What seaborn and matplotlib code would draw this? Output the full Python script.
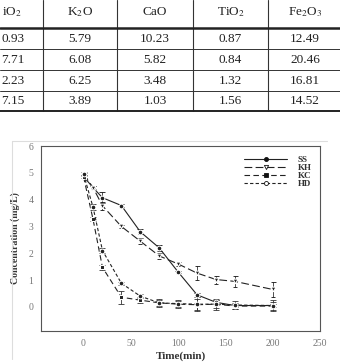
import numpy as np
import pandas as pd
import matplotlib
matplotlib.use("Agg")
import matplotlib.pyplot as plt
import seaborn as sns
from matplotlib.lines import Line2D

# table (cropped piece at the top of the picture)
tbl_header = ["iO$_2$", "K$_2$O", "CaO", "TiO$_2$", "Fe$_2$O$_3$"]
tbl_rows = [
    ["0.93", "5.79", "10.23", "0.87", "12.49"],
    ["7.71", "6.08", "5.82", "0.84", "20.46"],
    ["2.23", "6.25", "3.48", "1.32", "16.81"],
    ["7.15", "3.89", "1.03", "1.56", "14.52"],
]

# chart data
time_min = [0, 10, 20, 40, 60, 80, 100, 120, 140, 160, 200]
series_names = ["SS", "KH", "KC", "HD"]
ss = [4.86, 4.45, 4.07, 3.78, 2.80, 2.20, 1.30, 0.45, 0.17, 0.05, 0.05]
kh = [4.95, 4.45, 3.77, 3.00, 2.45, 1.90, 1.60, 1.26, 1.02, 0.95, 0.65]
kc = [4.85, 3.27, 1.47, 0.36, 0.25, 0.15, 0.10, 0.08, 0.10, 0.03, 0.03]
hd = [4.95, 3.72, 2.10, 0.88, 0.40, 0.15, 0.12, 0.10, 0.10, 0.07, 0.05]
ss_err = [0.05, 0.05, 0.20, 0.05, 0.10, 0.10, 0.05, 0.08, 0.10, 0.05, 0.05]
kh_err = [0.05, 0.05, 0.15, 0.05, 0.12, 0.12, 0.08, 0.25, 0.15, 0.22, 0.27]
kc_err = [0.05, 0.08, 0.08, 0.25, 0.10, 0.12, 0.12, 0.20, 0.15, 0.10, 0.15]
hd_err = [0.08, 0.10, 0.10, 0.05, 0.08, 0.15, 0.15, 0.25, 0.20, 0.15, 0.20]

values = {"SS": ss, "KH": kh, "KC": kc, "HD": hd}
errors = {"SS": ss_err, "KH": kh_err, "KC": kc_err, "HD": hd_err}

df = pd.concat([pd.DataFrame({"time": time_min, "conc": values[s], "err": errors[s], "series": s})
                for s in series_names], ignore_index=True)

sns.set_style("white")
plt.rcParams['font.family'] = ['Liberation Serif', 'DejaVu Serif']
plt.rcParams['mathtext.fontset'] = 'stix'

fig = plt.figure(figsize=(3.4, 3.62), dpi=100)
W, H = 340, 362

def fx(px):
    return px / W

def fy(py):
    return 1 - py / H

# ---- table ----
col_lines = [43, 117, 193, 268]
col_centers = [5, 80, 155, 230.5, 305]
row_lines = [49, 70, 91]
for x in col_lines:
    fig.add_artist(Line2D([fx(x), fx(x)], [fy(0), fy(111)], color="#333333", lw=0.8))
fig.add_artist(Line2D([0, 1], [fy(27.5), fy(27.5)], color="#222222", lw=1.8))
for y in row_lines:
    fig.add_artist(Line2D([0, 1], [fy(y), fy(y)], color="#333333", lw=0.7))
fig.add_artist(Line2D([0, 1], [fy(110.5), fy(110.5)], color="#222222", lw=1.4))
for j, h in enumerate(tbl_header):
    if j == 0:
        fig.text(fx(1.5), fy(12), h, ha="left", va="center", fontsize=9.5, color="#222222")
    else:
        fig.text(fx(col_centers[j]), fy(12), h, ha="center", va="center", fontsize=9.5, color="#222222")
row_centers = [39, 60, 80.5, 101]
for i, row in enumerate(tbl_rows):
    for j, v in enumerate(row):
        if j == 0:
            fig.text(fx(1.5), fy(row_centers[i]), v, ha="left", va="center", fontsize=9.5, color="#222222")
        else:
            fig.text(fx(col_centers[j]), fy(row_centers[i]), v, ha="center", va="center", fontsize=9.5, color="#222222")

# light frame around the chart image
fig.add_artist(Line2D([fx(12), fx(327)], [fy(141), fy(141)], color="#dddddd", lw=0.8))
fig.add_artist(Line2D([fx(12), fx(12)], [fy(141), fy(359)], color="#dddddd", lw=0.8))

# ---- chart ----
ax = fig.add_axes([fx(41), fy(331), fx(320) - fx(41), fy(146) - fy(331)])
markers = {"SS": "o", "KH": "v", "KC": "s", "HD": "o"}
dashes = {"SS": "", "KH": (7, 3), "KC": (5, 3), "HD": (3, 2)}
facecols = {"SS": "#111111", "KH": "white", "KC": "#111111", "HD": "white"}
msizes = {"SS": 3.6, "KH": 3.8, "KC": 3.2, "HD": 3.6}

for s in series_names:
    sub = df[df["series"] == s]
    ax.errorbar(sub["time"], sub["conc"], yerr=sub["err"], fmt="none", ecolor="#333333",
                elinewidth=0.6, capsize=2.4, capthick=0.6, zorder=2)

sns.lineplot(data=df, x="time", y="conc", style="series", style_order=series_names,
             markers=markers, dashes=dashes, color="#222222", linewidth=0.8,
             markersize=3.4, ax=ax, legend=False, zorder=3)

for line, s in zip(ax.get_lines(), series_names):
    line.set_markerfacecolor(facecols[s])
    line.set_markeredgecolor("#111111")
    line.set_markeredgewidth(0.6)
    line.set_markersize(msizes[s])

handles = []
for s in series_names:
    ls = "-" if s == "SS" else (0, dashes[s])
    handles.append(Line2D([0], [0], color="#222222", lw=0.8, linestyle=ls, marker=markers[s],
                          markerfacecolor=facecols[s], markeredgecolor="#111111",
                          markeredgewidth=0.6, markersize=msizes[s] * 0.8))
leg = ax.legend(handles, series_names, loc="upper right", frameon=False, fontsize=6.5,
                handlelength=4.8, labelspacing=-0.05, handletextpad=1.2,
                bbox_to_anchor=(1.0, 0.99))
for t in leg.get_texts():
    t.set_fontweight("bold")
    t.set_color("#333333")

ax.set_xlim(-45, 250)
ax.set_ylim(-0.9, 6)
ax.set_xticks([0, 50, 100, 150, 200, 250])
ax.set_yticks([0, 1, 2, 3, 4, 5, 6])
ax.tick_params(axis="x", direction="in", length=2.5, width=0.6, labelsize=7,
               labelcolor="#777777", color="#555555", pad=6)
ax.tick_params(axis="y", direction="out", length=2.5, width=0.6, labelsize=7,
               labelcolor="#777777", color="#555555", pad=3)
for side in ["left", "bottom", "right", "top"]:
    ax.spines[side].set_visible(True)
    ax.spines[side].set_linewidth(0.8)
    ax.spines[side].set_color("#555555")
ax.set_xlabel("Time(min)", fontsize=8, fontweight="bold", color="#333333", labelpad=2)
ax.set_ylabel("Concentration (mg/L)", fontsize=7, fontweight="bold", color="#333333", labelpad=6)

fig.savefig("out.png", dpi=100)
